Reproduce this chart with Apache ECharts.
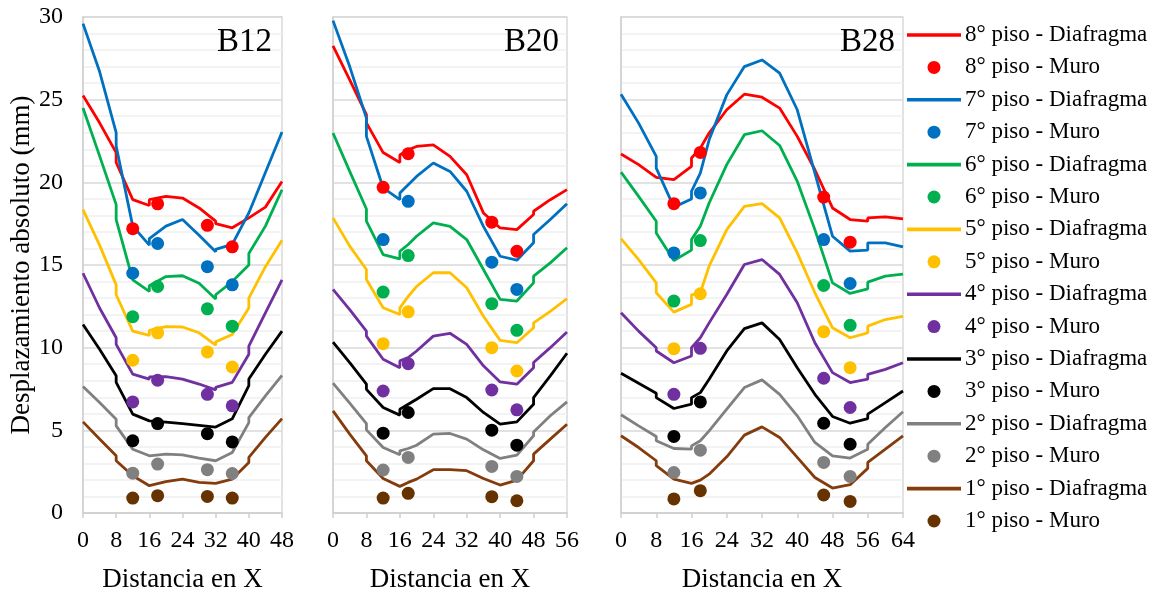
<!DOCTYPE html>
<html>
<head>
<meta charset="utf-8">
<script src="https://cdn.jsdelivr.net/npm/echarts@6/dist/echarts.min.js"></script>
<style>
  html, body { margin: 0; padding: 0; background: #fff; }
  #chart { width: 1165px; height: 598px; }
</style>
</head>
<body>
<div id="chart"></div>
<script>
// Floors, from top (8°) to bottom (1°)
const floors = [8, 7, 6, 5, 4, 3, 2, 1];
const lineColors = ['#FF0000', '#0070C0', '#00B050', '#FFC000', '#7030A0', '#000000', '#808080', '#843C0C'];
const dotColors  = ['#FF0000', '#0070C0', '#00B050', '#FFC000', '#7030A0', '#000000', '#808080', '#663300'];
const panelNames = ['B12', 'B20', 'B28'];
const xMax = [48, 56, 64];

// ---- B12 ----
const b12X = [0, 4, 8, 8, 12, 16, 16, 20, 24, 28, 32, 32, 36, 40, 40, 44, 48];
const b12Diafragma = [
  [25.25, 23.6, 21.8, 21.2, 18.95, 18.6, 18.95, 19.15, 19.05, 18.45, 17.65, 17.5, 17.25, 17.85, 17.85, 18.5, 20.05],
  [29.6, 26.7, 23.0, 22.2, 17.35, 16.2, 16.6, 17.35, 17.75, 16.8, 15.8, 15.95, 16.25, 18.15, 18.15, 20.6, 23.05],
  [24.5, 21.6, 18.65, 17.75, 14.1, 13.4, 13.75, 14.3, 14.35, 13.9, 12.95, 13.2, 14.0, 15.0, 15.7, 17.35, 19.55],
  [18.35, 16.2, 13.8, 13.2, 11.0, 10.75, 11.05, 11.27, 11.25, 10.9, 10.15, 10.35, 10.8, 12.4, 13.0, 14.9, 16.5],
  [14.5, 12.4, 10.6, 10.2, 8.4, 8.1, 8.23, 8.25, 8.1, 7.8, 7.45, 7.6, 7.9, 9.6, 10.1, 12.1, 14.1],
  [11.4, 9.9, 8.3, 7.9, 5.98, 5.57, 5.57, 5.5, 5.4, 5.3, 5.2, 5.2, 5.7, 7.7, 8.1, 9.6, 11.0],
  [7.65, 6.68, 5.67, 5.27, 3.86, 3.46, 3.5, 3.56, 3.52, 3.32, 3.16, 3.16, 3.66, 5.47, 5.77, 7.08, 8.33],
  [5.51, 4.47, 3.46, 3.16, 2.25, 1.65, 1.7, 1.9, 2.05, 1.85, 1.79, 1.79, 2.05, 3.06, 3.36, 4.57, 5.71]
];
const b12MuroX = [12, 18, 30, 36];
const b12Muro = [
  [17.2, 18.7, 17.4, 16.1],
  [14.5, 16.3, 14.9, 13.8],
  [11.87, 13.7, 12.35, 11.3],
  [9.24, 10.9, 9.74, 8.83],
  [6.72, 8.03, 7.18, 6.48],
  [4.37, 5.41, 4.8, 4.3],
  [2.41, 2.96, 2.62, 2.39],
  [0.9, 1.05, 1.0, 0.9]
];

// ---- B20 ----
const b20X = [0, 4, 8, 8, 12, 16, 16, 18, 20, 24, 28, 32, 36, 40, 44, 48, 48, 52, 56];
const b20Diafragma = [
  [28.25, 26.2, 24.1, 23.6, 21.8, 21.2, 21.65, 21.97, 22.17, 22.27, 21.57, 20.46, 18.15, 17.24, 17.14, 18.05, 18.25, 18.95, 19.56],
  [29.78, 27.0, 23.88, 22.78, 19.66, 18.95, 19.36, 19.86, 20.36, 21.17, 20.66, 19.46, 17.34, 15.53, 15.29, 16.34, 16.84, 17.75, 18.71],
  [22.98, 20.66, 18.39, 17.65, 15.63, 15.37, 15.83, 16.24, 16.74, 17.55, 17.34, 16.54, 14.73, 12.92, 12.82, 13.92, 14.33, 15.13, 16.04],
  [17.85, 16.14, 14.73, 14.12, 12.41, 12.01, 12.41, 13.1, 13.7, 14.53, 14.53, 13.62, 11.9, 10.44, 10.3, 11.2, 11.5, 12.2, 12.96],
  [13.52, 12.3, 11.0, 10.7, 9.3, 8.79, 9.2, 9.4, 9.8, 10.7, 10.87, 10.2, 8.9, 7.93, 7.79, 8.79, 9.1, 10.0, 10.95],
  [10.34, 9.1, 7.79, 7.48, 6.38, 5.92, 6.28, 6.58, 6.88, 7.52, 7.52, 6.98, 6.08, 5.37, 5.51, 6.58, 6.98, 8.29, 9.66],
  [7.85, 6.64, 5.41, 5.03, 3.96, 3.52, 3.76, 3.9, 4.1, 4.77, 4.81, 4.47, 3.82, 3.3, 3.5, 4.67, 4.9, 5.88, 6.72],
  [6.18, 4.77, 3.46, 3.16, 2.09, 1.61, 1.7, 1.85, 2.05, 2.62, 2.62, 2.56, 2.09, 1.69, 1.99, 3.16, 3.56, 4.47, 5.37]
];
const b20MuroX = [12, 18, 38, 44];
const b20Muro = [
  [19.7, 21.73, 17.59, 15.83],
  [16.54, 18.85, 15.17, 13.52],
  [13.36, 15.57, 12.66, 11.05],
  [10.24, 12.17, 10.0, 8.59],
  [7.38, 9.03, 7.44, 6.24],
  [4.83, 6.08, 5.01, 4.1],
  [2.6, 3.36, 2.82, 2.21],
  [0.9, 1.19, 0.99, 0.74]
];

// ---- B28 ----
const b28X = [0, 4, 8, 8, 12, 16, 16, 18, 20, 24, 28, 32, 36, 40, 44, 48, 52, 56, 56, 60, 64];
const b28Diafragma = [
  [21.71, 21.07, 20.3, 20.2, 20.16, 20.97, 21.47, 22.07, 22.98, 24.39, 25.33, 25.15, 24.49, 22.78, 20.76, 18.45, 17.75, 17.65, 17.85, 17.91, 17.79],
  [25.33, 23.58, 21.57, 20.86, 18.5, 18.99, 19.46, 20.56, 22.57, 25.29, 27.0, 27.4, 26.6, 24.39, 20.56, 16.74, 15.84, 15.9, 16.34, 16.34, 16.1],
  [20.62, 19.15, 17.65, 16.94, 15.27, 15.9, 16.54, 17.34, 18.75, 21.07, 22.88, 23.12, 22.23, 20.06, 17.14, 13.92, 13.28, 13.56, 13.96, 14.33, 14.45],
  [16.6, 15.33, 13.92, 13.32, 12.15, 12.62, 13.2, 13.32, 14.93, 17.14, 18.55, 18.71, 17.85, 15.73, 13.32, 11.2, 10.6, 10.9, 11.3, 11.7, 11.9],
  [12.11, 11.0, 10.0, 9.8, 9.09, 9.5, 10.0, 10.6, 11.5, 13.22, 15.03, 15.33, 14.43, 12.72, 10.3, 8.49, 7.89, 8.09, 8.39, 8.69, 9.09],
  [8.45, 7.85, 7.24, 6.98, 6.32, 6.58, 6.98, 7.28, 8.09, 9.8, 11.15, 11.5, 10.5, 8.79, 7.18, 5.84, 5.43, 5.71, 5.98, 6.68, 7.38],
  [5.94, 5.27, 4.63, 4.37, 3.9, 3.86, 4.06, 4.37, 4.97, 6.28, 7.59, 8.05, 7.18, 5.88, 4.27, 3.46, 3.32, 3.86, 4.16, 5.17, 6.12],
  [4.67, 3.96, 3.16, 2.86, 2.05, 1.79, 1.79, 1.99, 2.35, 3.4, 4.71, 5.21, 4.57, 3.36, 2.15, 1.51, 1.71, 2.7, 3.06, 3.86, 4.67]
];
const b28MuroX = [12, 18, 46, 52];
const b28Muro = [
  [18.71, 21.81, 19.11, 16.38],
  [15.73, 19.36, 16.54, 13.88],
  [12.82, 16.48, 13.76, 11.35],
  [9.94, 13.26, 10.97, 8.79],
  [7.18, 9.96, 8.15, 6.38],
  [4.63, 6.72, 5.43, 4.16],
  [2.45, 3.8, 3.06, 2.21],
  [0.85, 1.35, 1.09, 0.7]
];

const panels = [
  { x: b12X, diaf: b12Diafragma, muroX: b12MuroX, muro: b12Muro },
  { x: b20X, diaf: b20Diafragma, muroX: b20MuroX, muro: b20Muro },
  { x: b28X, diaf: b28Diafragma, muroX: b28MuroX, muro: b28Muro }
];

const FONT = '"Liberation Serif", "Times New Roman", serif';
const gridRects = [
  { left: 83, top: 17, width: 199, height: 497 },
  { left: 333, top: 17, width: 234, height: 497 },
  { left: 621, top: 17, width: 282, height: 497 }
];
const titleInset = [10, 8, 8];

const diafName = f => f + '° piso - Diafragma';
const muroName = f => f + '° piso - Muro';

const series = [];
panels.forEach((p, pi) => {
  floors.forEach((f, fi) => {
    series.push({
      name: diafName(f), type: 'line', xAxisIndex: pi, yAxisIndex: pi,
      data: p.x.map((x, k) => [x, p.diaf[fi][k]]),
      symbol: 'none', smooth: false, z: 2,
      lineStyle: { color: lineColors[fi], width: 2.8 },
      itemStyle: { color: lineColors[fi] },
      animation: false
    });
  });
  floors.forEach((f, fi) => {
    series.push({
      name: muroName(f), type: 'scatter', xAxisIndex: pi, yAxisIndex: pi,
      data: p.muroX.map((x, k) => [x, p.muro[fi][k]]),
      symbol: 'circle', symbolSize: 13, z: 3,
      itemStyle: { color: dotColors[fi], opacity: 1 },
      animation: false
    });
  });
});

// Legend: a plain stroke for the diaphragm lines, a dot for the wall values
const strokeIcon = 'path://M0,0H54V3.6H0Z';
const legendData = [];
floors.forEach(f => {
  legendData.push({ name: diafName(f), icon: strokeIcon });
  legendData.push({ name: muroName(f), icon: 'circle' });
});

const option = {
  backgroundColor: '#ffffff',
  animation: false,
  textStyle: { fontFamily: FONT },
  title: panelNames.map((t, i) => ({
    text: t,
    right: 1165 - (gridRects[i].left + gridRects[i].width) + titleInset[i],
    top: 26,
    padding: 0,
    textStyle: { fontFamily: FONT, fontSize: 33, fontWeight: 'normal', color: '#000' }
  })),
  legend: {
    data: legendData,
    orient: 'vertical',
    left: 907,
    top: 23.5,
    itemWidth: 54,
    itemHeight: 13,
    itemGap: 9.4,
    padding: 0,
    symbolKeepAspect: true,
    textStyle: { fontFamily: FONT, fontSize: 23, color: '#000', lineHeight: 23, padding: [0, 0, 0, -1] }
  },
  grid: gridRects.map(r => Object.assign({ show: true, borderColor: '#D9D9D9', borderWidth: 1.5, backgroundColor: 'transparent' }, r)),
  xAxis: panels.map((p, i) => ({
    type: 'value', gridIndex: i, min: 0, max: xMax[i], interval: 8,
    name: 'Distancia en X', nameLocation: 'middle', nameGap: 53,
    nameTextStyle: { fontFamily: FONT, fontSize: 27, color: '#000' },
    axisLine: { show: true, onZero: false, lineStyle: { color: '#D0D0D0', width: 1.5 } },
    axisTick: { show: true, length: 5, lineStyle: { color: '#D0D0D0', width: 1.5 } },
    axisLabel: { fontFamily: FONT, fontSize: 24, color: '#000', margin: 16 },
    splitLine: { show: false }
  })),
  yAxis: panels.map((p, i) => ({
    type: 'value', gridIndex: i, min: 0, max: 30, interval: 5,
    name: i === 0 ? 'Desplazamiento absoluto (mm)' : '',
    nameLocation: 'middle', nameGap: 48,
    nameTextStyle: { fontFamily: FONT, fontSize: 27, color: '#000' },
    axisLine: { show: true, lineStyle: { color: '#D0D0D0', width: 1.5 } },
    axisTick: { show: false },
    axisLabel: { show: i === 0, fontFamily: FONT, fontSize: 24, color: '#000', margin: 20 },
    splitLine: { show: true, lineStyle: { color: '#D9D9D9', width: 1.5 } },
    minorTick: { show: false, splitNumber: 5 },
    minorSplitLine: { show: true, lineStyle: { color: '#EFEFEF', width: 1.5 } }
  })),
  series: series
};

const chart = echarts.init(document.getElementById('chart'), null, { renderer: 'canvas' });
chart.setOption(option);
</script>
</body>
</html>
